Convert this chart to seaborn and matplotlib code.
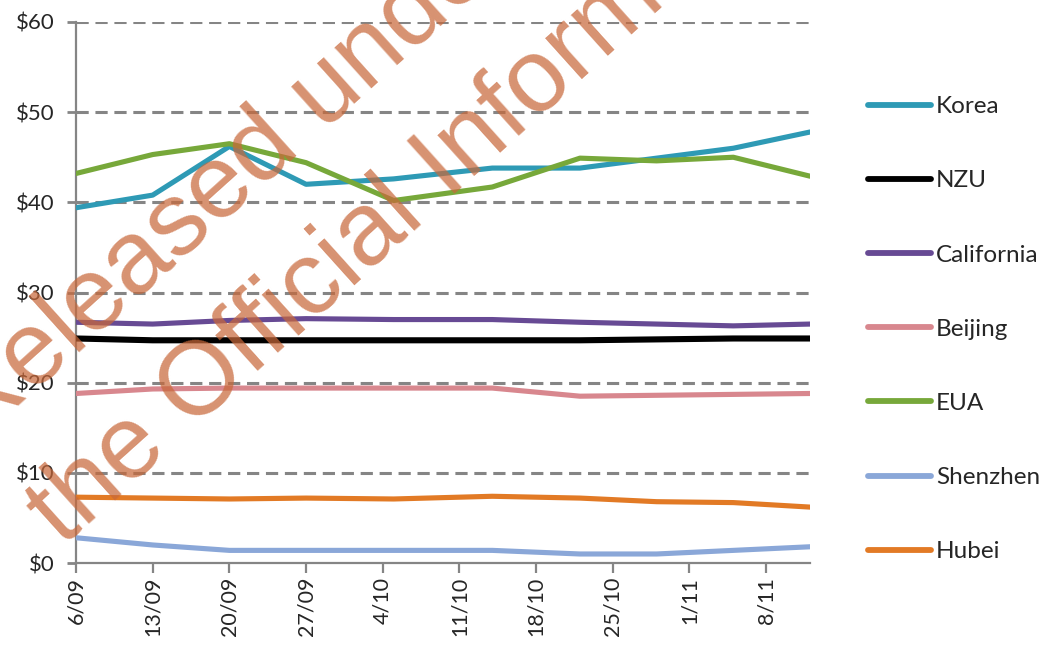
import matplotlib
matplotlib.use("Agg")
import matplotlib.pyplot as plt
import matplotlib.dates as mdates
import matplotlib.ticker as mticker
import numpy as np
import pandas as pd
import seaborn as sns

# ---- data ----
dates = ["2019-09-06", "2019-09-13", "2019-09-20", "2019-09-27", "2019-10-05",
         "2019-10-14", "2019-10-22", "2019-10-29", "2019-11-05", "2019-11-12"]
korea      = [39.4, 40.8, 46.2, 42.0, 42.6, 43.8, 43.8, 44.9, 46.0, 47.8]
nzu        = [24.9, 24.7, 24.7, 24.7, 24.7, 24.7, 24.7, 24.8, 24.9, 24.9]
california = [26.7, 26.5, 26.9, 27.1, 27.0, 27.0, 26.7, 26.5, 26.3, 26.5]
beijing    = [18.8, 19.3, 19.4, 19.4, 19.4, 19.4, 18.5, 18.6, 18.7, 18.8]
eua        = [43.2, 45.3, 46.5, 44.4, 40.2, 41.7, 44.9, 44.6, 45.0, 42.9]
shenzhen   = [2.8, 2.0, 1.4, 1.4, 1.4, 1.4, 1.0, 1.0, 1.4, 1.8]
hubei      = [7.3, 7.2, 7.1, 7.2, 7.1, 7.4, 7.2, 6.8, 6.7, 6.2]

series_names = ["Korea", "NZU", "California", "Beijing", "EUA", "Shenzhen", "Hubei"]
series_values = [korea, nzu, california, beijing, eua, shenzhen, hubei]
tick_dates = ["2019-09-06", "2019-09-13", "2019-09-20", "2019-09-27", "2019-10-04",
              "2019-10-11", "2019-10-18", "2019-10-25", "2019-11-01", "2019-11-08"]
y_ticks = [0, 10, 20, 30, 40, 50, 60]
watermark_lines = ["Released under", "the Official Information Act"]

colors = {
    "Korea": "#2e9ab5",
    "NZU": "#000000",
    "California": "#674a94",
    "Beijing": "#d8878e",
    "EUA": "#77a83a",
    "Shenzhen": "#8aa7d8",
    "Hubei": "#e27a25",
}

rows = []
for name, vals in zip(series_names, series_values):
    for d, v in zip(dates, vals):
        rows.append({"date": pd.Timestamp(d), "price": v, "series": name})
df = pd.DataFrame(rows)

sns.set_theme(style="white")
plt.rcParams["font.family"] = ["Lato", "DejaVu Sans"]

fig = plt.figure(figsize=(10.43, 6.45), dpi=100)
ax = fig.add_axes([76 / 1043, (645 - 563) / 645, (810 - 76) / 1043, (563 - 22) / 645])

sns.lineplot(data=df, x="date", y="price", hue="series", hue_order=series_names,
             palette=colors, linewidth=3.7, ax=ax, legend=False, zorder=3)
for line, name in zip(ax.lines, series_names):
    line.set_solid_capstyle("round")
    if name == "NZU":
        line.set_linewidth(4.4)

ax.set_xlim(pd.Timestamp("2019-09-06"), pd.Timestamp("2019-11-12"))
ax.set_ylim(0, 60)
ax.set_xlabel("")
ax.set_ylabel("")

ax.set_xticks([pd.Timestamp(t) for t in tick_dates])
ax.xaxis.set_major_formatter(mdates.DateFormatter("%-d/%m"))
ax.set_yticks(y_ticks)
ax.yaxis.set_major_formatter(mticker.FuncFormatter(lambda v, p: f"${int(v)}"))

grid_color = "#858585"
for yv in y_ticks[1:]:
    ax.axhline(yv, color=grid_color, linewidth=2.2, dashes=(4, 2.2), zorder=1)

for s in ["top", "right"]:
    ax.spines[s].set_visible(False)
for s in ["left", "bottom"]:
    ax.spines[s].set_color(grid_color)
    ax.spines[s].set_linewidth(1.6)

ax.tick_params(axis="y", direction="out", length=6.5, width=2.0, color=grid_color,
               labelsize=16, labelcolor="#262626", pad=9, left=True)
ax.tick_params(axis="x", direction="out", length=7, width=1.6, color=grid_color,
               labelsize=15.5, labelcolor="#262626", rotation=90, pad=3, bottom=True)

handles = [plt.Line2D([0], [0], color=colors[n], linewidth=4.2, solid_capstyle="round")
           for n in series_names]
fig.legend(handles, series_names, loc="upper left", bbox_to_anchor=(868 / 1043, 1 - 96 / 645),
           frameon=False, fontsize=17.5, handlelength=2.6, handletextpad=0.2,
           labelspacing=2.19, borderpad=0, borderaxespad=0, labelcolor="#262626")

# watermark
wm_kw = dict(fontsize=75, family=["Liberation Sans", "DejaVu Sans"], color="#c8683a",
             alpha=0.72, rotation=42, rotation_mode="anchor", ha="left", va="baseline",
             zorder=10)
fig.text(-25 / 1043, 1 - 445 / 645, watermark_lines[0], transform=fig.transFigure, **wm_kw)
fig.text(62 / 1043, 1 - 547 / 645, watermark_lines[1], transform=fig.transFigure, **wm_kw)

fig.savefig("out.png", dpi=100)
